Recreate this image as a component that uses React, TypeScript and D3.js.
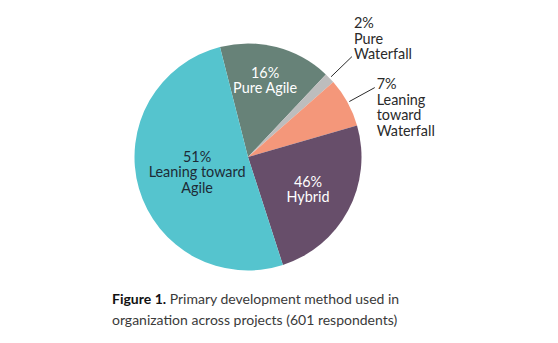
import React from "react";
import * as d3 from "d3";

const categories = ["Pure Agile", "Pure Waterfall", "Leaning toward Waterfall", "Hybrid", "Leaning toward Agile"];
const values = [16, 1.5, 7, 24.5, 51];
const percentLabels = ["16%", "2%", "7%", "46%", "51%"];
const labelLines = [["Pure Agile"], ["Pure", "Waterfall"], ["Leaning", "toward", "Waterfall"], ["Hybrid"], ["Leaning toward", "Agile"]];
const colors = ["#678278", "#BDBDBD", "#F4977A", "#674E6A", "#55C4CE"];
const insideText = ["#ffffff", null, null, "#ffffff", "#1d2b36"];
const labelRadii = [79, 0, 0, 68, 53];
const labelAngleShift = [-2, 0, 0, 0, 0];
const outside = [false, true, true, false, false];

const W = 558;
const H = 343;
const cx = 248;
const cy = 157;
const R = 113.5;
const FONT = "Lato, 'Noto Sans', sans-serif";

export default function App() {
  const start = (-14.3 * Math.PI) / 180;
  const pie = d3.pie<number>().sort(null).startAngle(start).endAngle(start + 2 * Math.PI);
  const arcs = pie(values);
  const arc = d3.arc<d3.PieArcDatum<number>>().innerRadius(0).outerRadius(R);
  const lh = 15.5;
  const fs = 14.4;

  return (
    <svg width={W} height={H} style={{ position: "absolute", left: 0, top: 0, background: "#fff" }} fontFamily={FONT}>
      <g transform={`translate(${cx},${cy})`}>
        {arcs.map((a, i) => (
          <path key={categories[i]} d={arc(a) || ""} fill={colors[i]} />
        ))}
        {arcs.map((a, i) => {
          const mid = (a.startAngle + a.endAngle) / 2 + (labelAngleShift[i] * Math.PI) / 180;
          if (outside[i]) {
            const r0 = R + 2;
            const r1 = R + 31;
            const x0 = Math.sin(mid) * r0, y0 = -Math.cos(mid) * r0;
            const x1 = Math.sin(mid) * r1, y1 = -Math.cos(mid) * r1;
            const lines = [percentLabels[i], ...labelLines[i]];
            const firstY = i === 1 ? y1 - 34 : y1 - 4;
            return (
              <g key={"o" + i}>
                <line x1={x0} y1={y0} x2={x1} y2={y1} stroke="#2b2b2b" strokeWidth={1} />
                <text x={x1 + 2} fill="#2a2a2a" fontSize={fs}>
                  {lines.map((t, k) => (
                    <tspan key={k} x={x1 + 2} y={firstY + k * lh} dominantBaseline="central">{t}</tspan>
                  ))}
                </text>
              </g>
            );
          }
          const lr = labelRadii[i];
          const x = Math.sin(mid) * lr;
          const y = -Math.cos(mid) * lr;
          const lines = [percentLabels[i], ...labelLines[i]];
          const y0 = y - ((lines.length - 1) * lh) / 2;
          return (
            <text key={"i" + i} textAnchor="middle" fill={insideText[i] || "#000"} fontSize={fs}>
              {lines.map((t, k) => (
                <tspan key={k} x={x} y={y0 + k * lh} dominantBaseline="central">{t}</tspan>
              ))}
            </text>
          );
        })}
      </g>
      <text x={112} y={298} fontSize={14} fill="#3a3a3a" dominantBaseline="central">
        <tspan fontWeight="bold" fill="#111">Figure 1.</tspan>
        <tspan> Primary development method used in</tspan>
      </text>
      <text x={112} y={319} fontSize={14} fill="#3a3a3a" dominantBaseline="central">
        organization across projects (601 respondents)
      </text>
    </svg>
  );
}
